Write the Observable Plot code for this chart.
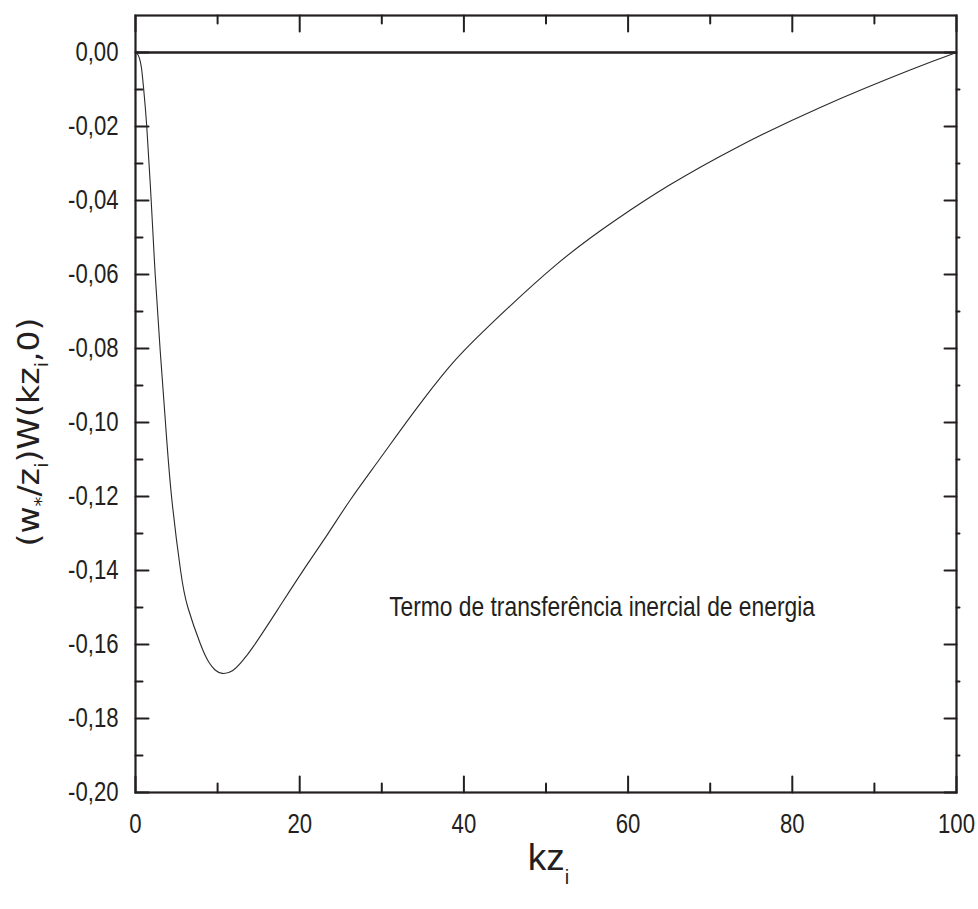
<!DOCTYPE html>
<html><head><meta charset="utf-8">
<script src="https://cdn.jsdelivr.net/npm/d3@7"></script>
<script src="https://cdn.jsdelivr.net/npm/@observablehq/plot@0.6"></script>
<style>body{margin:0;background:#fff}</style>
</head><body><div id="chart"></div>
<script>
// curve values
const kz = [0, 0.3, 0.5, 0.73, 1.0, 1.37, 1.91, 2.4, 2.99, 3.65, 4.39, 5.49, 6.38, 7.93, 8.94, 9.7, 10.57, 11.8, 13.0, 14.43, 17.28, 20.33, 23.37, 26.2, 29.7, 33.9, 38.17, 42.68, 51.22, 58.54, 65.0, 73.3, 83.54, 94.27, 100];
const w  = [0, -0.0006, -0.0017, -0.0042, -0.010, -0.020, -0.040, -0.060, -0.080, -0.100, -0.120, -0.140, -0.150, -0.160, -0.1648, -0.1669, -0.1678, -0.1671, -0.1645, -0.1603, -0.1507, -0.1403, -0.1303, -0.1208, -0.1100, -0.0972, -0.0851, -0.0747, -0.0574, -0.0452, -0.0359, -0.0256, -0.0147, -0.0048, 0];

const xMajor = [0, 20, 40, 60, 80, 100];
const xMinor = [10, 30, 50, 70, 90];
const xTickLabels = ["0", "20", "40", "60", "80", "100"];
const yMajor = [-0.20, -0.18, -0.16, -0.14, -0.12, -0.10, -0.08, -0.06, -0.04, -0.02, 0];
const yMinor = [-0.19, -0.17, -0.15, -0.13, -0.11, -0.09, -0.07, -0.05, -0.03, -0.01];
const yTickLabels = ["-0,20", "-0,18", "-0,16", "-0,14", "-0,12", "-0,10", "-0,08", "-0,06", "-0,04", "-0,02", "0,00"];
const annoText = ["Termo de transferência inercial de energia"];
const annoX = [30.9];
const annoY = [-0.1522];

function hasFont(name) {
  const c = document.createElement("canvas").getContext("2d");
  c.font = "40px monospace";
  const a = c.measureText("0,00 Termo WWiii").width;
  c.font = `40px "${name}", monospace`;
  const b = c.measureText("0,00 Termo WWiii").width;
  return Math.abs(a - b) > 0.5;
}
const narrow = hasFont("Liberation Sans Narrow");
const FONT = narrow ? '"Liberation Sans Narrow", "Arial Narrow", sans-serif' : '"Liberation Sans", Arial, sans-serif';

const ink = "#231f20";
const tickShape = {draw(ctx, l) { ctx.moveTo(0, 0); ctx.lineTo(0, -l); }};
const tk = (data, opts) => Plot.vector(data, {...opts, anchor: "start", shape: tickShape, stroke: ink, strokeWidth: 2});

const data = kz.map((k, i) => ({k, v: w[i]}));

const plot = Plot.plot({
  width: 978, height: 909,
  marginLeft: 135, marginRight: 22, marginTop: 15, marginBottom: 117,
  x: {domain: [0, 100], label: null},
  y: {domain: [-0.20, 0.01], label: null},
  style: {fontFamily: FONT, background: "#fff", color: ink},
  marks: [
    Plot.axisX(xMajor, {tickSize: 0, tickPadding: 21, fontSize: 27, label: null, tickFormat: d => xTickLabels[xMajor.indexOf(d)]}),
    Plot.axisY(yMajor, {tickSize: 0, tickPadding: 17, fontSize: 27, label: null, tickFormat: d => yTickLabels[yMajor.indexOf(d)]}),
    tk(xMajor, {x: d => d, frameAnchor: "bottom", rotate: 0, length: 16}),
    tk(xMinor, {x: d => d, frameAnchor: "bottom", rotate: 0, length: 9}),
    tk(xMajor, {x: d => d, frameAnchor: "top", rotate: 180, length: 16}),
    tk(xMinor, {x: d => d, frameAnchor: "top", rotate: 180, length: 8}),
    tk(yMajor, {y: d => d, frameAnchor: "left", rotate: 90, length: 13}),
    tk(yMinor, {y: d => d, frameAnchor: "left", rotate: 90, length: 7}),
    tk(yMajor, {y: d => d, frameAnchor: "right", rotate: -90, length: 12}),
    tk(yMinor, {y: d => d, frameAnchor: "right", rotate: 90, length: 3}),
    Plot.ruleY([0], {stroke: ink, strokeWidth: 2.5}),
    Plot.line(data, {x: "k", y: "v", curve: "natural", stroke: "#2a2a2a", strokeWidth: 1.1}),
    Plot.text(annoText, {x: (d, i) => annoX[i], y: (d, i) => annoY[i], text: d => d, textAnchor: "start", lineAnchor: "bottom", fontSize: 27.8}),
    Plot.frame({stroke: ink, strokeWidth: 2.2})
  ]
});
document.getElementById("chart").appendChild(plot);

const svg = d3.select(plot);
if (!narrow) {
  svg.selectAll("text").each(function() {
    const L = this.getComputedTextLength();
    this.setAttribute("textLength", L * 0.82);
    this.setAttribute("lengthAdjust", "spacingAndGlyphs");
  });
}
const xs = plot.scale("x");
// x axis label
const xl = svg.append("text")
  .attr("x", xs.apply(50) + 3).attr("y", 870)
  .attr("text-anchor", "middle")
  .attr("fill", ink)
  .style("font-family", FONT).style("font-size", "37px");
xl.append("tspan").text("kz");
xl.append("tspan").attr("dy", 14).style("font-size", "20px").text("i");

// y axis label
const yl = svg.append("text")
  .attr("transform", "translate(39,432) rotate(-90)")
  .attr("text-anchor", "middle")
  .attr("fill", ink)
  .attr("textLength", 229).attr("lengthAdjust", "spacingAndGlyphs")
  .style("font-family", '"DejaVu Sans", sans-serif').style("font-size", "30px");
const parts = [["(w", 0, 30], ["*", 8, 18], ["/z", -8, 30], ["i", 9, 18], [")W(kz", -9, 30], ["i", 9, 18], [",0)", -9, 30]];
parts.forEach(([t, dy, fs]) => yl.append("tspan").attr("dy", dy).style("font-size", fs + "px").text(t));
</script>
</body></html>
